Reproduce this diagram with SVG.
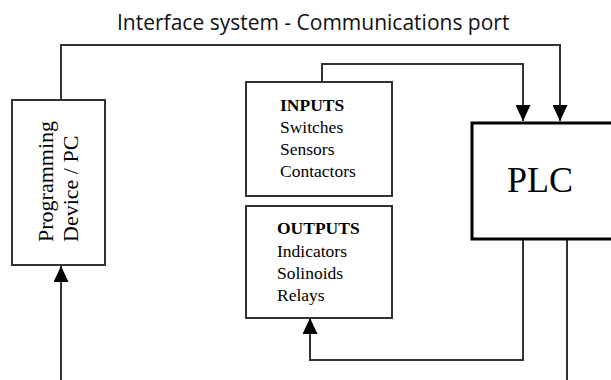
<svg xmlns="http://www.w3.org/2000/svg" width="611" height="380" viewBox="0 0 611 380">
  <style>
    .box { fill: #fff; stroke: #333; stroke-width: 2; }
    .plc { fill: #fff; stroke: #000; stroke-width: 3; }
    .wire { fill: none; stroke: #333; stroke-width: 2; }
    .serif { font-family: "Liberation Serif", "Times New Roman", serif; fill: #000; }
    .lbl { font-size: 17.5px; }
    .hd { font-size: 17.5px; font-weight: bold; }
    .title { font-family: "Open Sans", "Noto Sans", sans-serif; font-size: 21px; fill: #111; }
  </style>
  <defs>
    <marker id="arrow" viewBox="0 0 16 15" refX="16" refY="7.5" markerWidth="16" markerHeight="15" markerUnits="userSpaceOnUse" orient="auto">
      <path d="M0,0 L16,7.5 L0,15 Z" fill="#000"/>
    </marker>
  </defs>

  <rect width="611" height="380" fill="#fff"/>

  <text class="title" x="117" y="29.5">Interface system - Communications port</text>

  <g id="connectors">
    <!-- communications port: PC to PLC -->
    <path class="wire" d="M61,100 V45 H560 V121" marker-end="url(#arrow)"/>
    <!-- inputs to PLC -->
    <path class="wire" d="M322,82 V64 H523 V121" marker-end="url(#arrow)"/>
    <!-- PLC to outputs -->
    <path class="wire" d="M523,239 V360 H310 V318" marker-end="url(#arrow)"/>
    <!-- PLC downlink -->
    <path class="wire" d="M567,239 V380"/>
    <!-- feed into programming device -->
    <path class="wire" d="M61,380 V266" marker-end="url(#arrow)"/>
  </g>

  <g id="programming-device">
    <rect class="box" x="12" y="100" width="93" height="165"/>
    <g class="serif" font-size="22" transform="rotate(-90)">
      <text x="-242" y="53">Programming</text>
      <text x="-242" y="78">Device / PC</text>
    </g>
  </g>

  <g id="inputs">
    <rect class="box" x="246" y="82" width="146" height="114"/>
    <text class="serif hd" x="280" y="111">INPUTS</text>
    <text class="serif lbl" x="280" y="133">Switches</text>
    <text class="serif lbl" x="280" y="155">Sensors</text>
    <text class="serif lbl" x="280" y="177">Contactors</text>
  </g>

  <g id="outputs">
    <rect class="box" x="246" y="206" width="146" height="112"/>
    <text class="serif hd" x="277" y="234">OUTPUTS</text>
    <text class="serif lbl" x="277" y="257">Indicators</text>
    <text class="serif lbl" x="277" y="279">Solinoids</text>
    <text class="serif lbl" x="277" y="301">Relays</text>
  </g>

  <g id="plc">
    <rect class="plc" x="472" y="123" width="145" height="116"/>
    <text class="serif" font-size="36" x="507" y="192">PLC</text>
  </g>
</svg>
